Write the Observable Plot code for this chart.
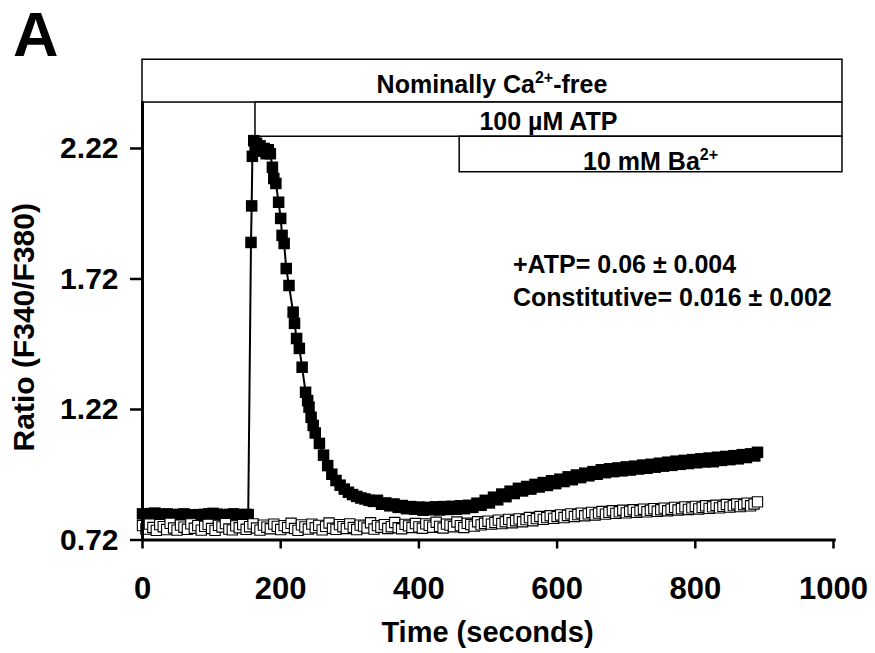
<!DOCTYPE html>
<html><head><meta charset="utf-8">
<script src="https://cdn.jsdelivr.net/npm/d3@7"></script>
<script src="https://cdn.jsdelivr.net/npm/@observablehq/plot@0.6"></script>
<style>
body{margin:0;background:#fff}
#chart{position:relative;width:875px;height:653px}
</style>
</head><body><div id="chart"></div>
<script>
// ---- Data ----
const atpTime = [0,6,12,18,24,30,36,42,48,54,60,66,72,78,84,90,96,102,108,114,120,126,132,138,144,150,153,
 157,158,159,161,163,165,167,170,173,176,179,182,185,188,190,193,197,200,202,205,208,212,218,220,223,227,231,236,239,241,244,247,250,
 256,262,268,274,280,286,292,298,304,310,316,322,328,334,340,346,352,358,364,370,376,382,388,394,400,406,412,418,424,430,436,442,448,454,460,466,472,478,484,490,496,502,508,514,520,526,532,538,544,550,556,562,568,574,580,586,592,598,604,610,616,622,628,634,640,646,652,658,664,670,676,682,688,694,700,706,712,718,724,730,736,742,748,754,760,766,772,778,784,790,796,802,808,814,820,826,832,838,844,850,856,862,868,874,880,886,890];
const atpRatio = [0.82,0.818,0.821,0.823,0.819,0.816,0.82,0.817,0.815,0.818,0.82,0.816,0.814,0.817,0.815,0.818,0.82,0.822,0.819,0.816,0.815,0.818,0.82,0.817,0.815,0.818,0.817,
 1.86,2.0,2.19,2.25,2.21,2.24,2.22,2.23,2.21,2.22,2.2,2.215,2.2,2.148,2.105,2.086,2.014,1.952,1.887,1.856,1.76,1.695,1.593,1.55,1.492,1.454,1.382,1.286,1.254,1.229,1.19,1.159,1.13,
 1.09,1.045,1.005,0.972,0.948,0.93,0.915,0.903,0.894,0.887,0.881,0.877,0.872,0.868,0.872,0.857,0.862,0.851,0.858,0.845,0.852,0.84,0.848,0.838,0.846,0.834,0.845,0.836,0.847,0.835,0.848,0.837,0.849,0.838,0.851,0.84,0.853,0.845,0.861,0.853,0.872,0.862,0.884,0.874,0.896,0.886,0.907,0.898,0.918,0.908,0.925,0.915,0.933,0.923,0.94,0.929,0.947,0.936,0.953,0.944,0.962,0.951,0.969,0.959,0.976,0.966,0.982,0.972,0.989,0.978,0.993,0.982,0.996,0.985,1.0,0.988,1.003,0.992,1.007,0.995,1.01,0.999,1.014,1.003,1.018,1.006,1.022,1.01,1.025,1.013,1.028,1.016,1.031,1.019,1.034,1.02,1.037,1.025,1.04,1.028,1.043,1.031,1.047,1.036,1.05,1.042,1.056];

const conTime = [0,5,10,15,20,25,30,35,40,45,50,55,60,65,70,75,80,85,90,95,100,105,110,115,120,125,130,135,140,145,150,155,160,165,170,175,180,185,190,195,200,205,210,215,220,225,230,235,240,245,250,255,260,265,270,275,280,285,290,295,300,305,310,315,320,325,330,335,340,345,350,355,360,365,370,375,380,385,390,395,400,405,410,415,420,425,430,435,440,445,450,455,460,465,470,475,480,485,490,495,500,505,510,515,520,525,530,535,540,545,550,555,560,565,570,575,580,585,590,595,600,605,610,615,620,625,630,635,640,645,650,655,660,665,670,675,680,685,690,695,700,705,710,715,720,725,730,735,740,745,750,755,760,765,770,775,780,785,790,795,800,805,810,815,820,825,830,835,840,845,850,855,860,865,870,875,880,885,890];
const conRatio = [0.775,0.762,0.781,0.768,0.757,0.779,0.771,0.76,0.784,0.766,
 0.758,0.777,0.769,0.761,0.782,0.765,0.775,0.758,0.772,0.78,
 0.764,0.757,0.776,0.77,0.783,0.762,0.759,0.774,0.767,0.779,
 0.761,0.771,0.782,0.766,0.758,0.777,0.769,0.763,0.781,0.772,
 0.76,0.775,0.768,0.784,0.764,0.757,0.778,0.77,0.762,0.781,
 0.767,0.776,0.759,0.772,0.785,0.765,0.761,0.779,0.771,0.764,
 0.782,0.768,0.76,0.777,0.773,0.766,0.786,0.762,0.775,0.769,
 0.779,0.764,0.771,0.787,0.767,0.763,0.78,0.774,0.768,0.783,
 0.77,0.765,0.782,0.776,0.769,0.788,0.772,0.766,0.781,0.777,
 0.771,0.789,0.775,0.768,0.784,0.779,0.773,0.79,0.778,0.784,
 0.792,0.781,0.787,0.796,0.783,0.79,0.799,0.786,0.794,0.801,
 0.79,0.798,0.806,0.794,0.802,0.81,0.799,0.806,0.813,0.803,
 0.81,0.816,0.806,0.814,0.82,0.81,0.817,0.823,0.813,0.82,
 0.826,0.816,0.823,0.829,0.819,0.826,0.832,0.822,0.828,0.834,
 0.824,0.83,0.836,0.826,0.832,0.838,0.828,0.834,0.84,0.83,
 0.836,0.842,0.832,0.838,0.845,0.835,0.84,0.847,0.837,0.843,
 0.849,0.839,0.845,0.851,0.841,0.847,0.853,0.843,0.849,0.856,
 0.846,0.852,0.858,0.848,0.855,0.861,0.851,0.858,
 0.866];

const xTicks = [0,200,400,600,800,1000];
const yTicks = [0.72,1.22,1.72,2.22];

// treatment bars above the trace
const barMain  = ["Nominally Ca", "100 µM ATP", "10 mM Ba"];
const barSup   = ["2+", "", "2+"];
const barAfter = ["-free", "", ""];
const barStart = [0, 163.5, 459];
const barEnd   = [1013, 1013, 1013];
const barTop   = [2.56, 2.396, 2.265];
const barBottom= [2.396, 2.265, 2.129];

const statLines = ["+ATP= 0.06 ± 0.004", "Constitutive= 0.016 ± 0.002"];
const xTitle = "Time (seconds)";
const yTitle = "Ratio (F340/F380)";
const panelLabel = "A";

// ---- Build tables ----
const atp = atpTime.map((t,i)=>({t, v: atpRatio[i]}));
const con = conTime.map((t,i)=>({t, v: conRatio[i]}));
const bars = barMain.map((m,i)=>({start:barStart[i], end:barEnd[i], top:barTop[i], bottom:barBottom[i]}));

const FONT = "'Liberation Sans', Arial, Helvetica, sans-serif";

const chart = Plot.plot({
  width: 875, height: 653,
  marginLeft: 142, marginRight: 42, marginTop: 101, marginBottom: 113.5,
  x: {domain: [0, 1000]},
  y: {domain: [0.72, 2.40]},
  style: {fontFamily: FONT, fontWeight: "bold", fontSize: "31px", color: "black", background: "white", overflow: "visible"},
  marks: [
    Plot.rect(bars, {x1: "start", x2: "end", y1: "bottom", y2: "top", fill: "white", stroke: "black", strokeWidth: 1.5, clip: false}),
    Plot.line(con, {x: "t", y: "v", stroke: "black", strokeWidth: 1}),
    Plot.line(atp, {x: "t", y: "v", stroke: "black", strokeWidth: 2}),
    Plot.dot(atp, {x: "t", y: "v", symbol: "square", r: 6.5, fill: "black"}),
    Plot.dot(con, {x: "t", y: "v", symbol: "square", r: 5.8, fill: "white", stroke: "black", strokeWidth: 1.1}),
    Plot.ruleX([0], {y1: 0.72, y2: 2.40, stroke: "black", strokeWidth: 3}),
    Plot.ruleY([0.72], {x1: 0, x2: 1004, stroke: "black", strokeWidth: 3}),
    Plot.axisX({ticks: xTicks, tickSize: 9, tickPadding: 28, tickFormat: d => String(d), label: null, strokeWidth: 2.5, fontSize: 31}),
    Plot.axisY({ticks: yTicks, tickSize: 12, tickPadding: 12, tickFormat: d => d.toFixed(2), label: null, strokeWidth: 2.5, fontSize: 30})
  ]
});
document.getElementById("chart").appendChild(chart);

// ---- Text annotations placed through the scales ----
const svg = d3.select(chart);
const sx = chart.scale("x"), sy = chart.scale("y");
const barBaselineOffset = [9, 6, 2];
bars.forEach((b,i)=>{
  const cx = (sx.apply(b.start) + sx.apply(b.end)) / 2;
  const by = sy.apply(b.bottom) - barBaselineOffset[i];
  const t = svg.append("text").attr("x", cx).attr("y", by).attr("text-anchor", "middle")
    .attr("font-family", FONT).attr("font-weight", "bold").attr("font-size", 25).attr("fill", "black");
  t.append("tspan").text(barMain[i]);
  if (barSup[i]) t.append("tspan").attr("dy", -10).attr("font-size", 16).text(barSup[i]);
  if (barAfter[i]) t.append("tspan").attr("dy", 10).text(barAfter[i]);
});

statLines.forEach((s,i)=>{
  svg.append("text").attr("x", 513).attr("y", 273 + i*33).attr("text-anchor", "start")
    .attr("font-family", FONT).attr("font-weight", "bold").attr("font-size", 25).attr("fill", "black").text(s);
});

svg.append("text").attr("x", (sx.apply(0)+sx.apply(1000))/2).attr("y", 642).attr("text-anchor", "middle")
  .attr("font-family", FONT).attr("font-weight", "bold").attr("font-size", 29).attr("fill", "black").text(xTitle);
svg.append("text").attr("transform", `translate(34,${(sy.apply(0.72)+sy.apply(2.40))/2 + 7}) rotate(-90)`).attr("text-anchor", "middle")
  .attr("font-family", FONT).attr("font-weight", "bold").attr("font-size", 30).attr("fill", "black").text(yTitle);
svg.append("text").attr("x", 13).attr("y", 56).attr("text-anchor", "start")
  .attr("font-family", FONT).attr("font-weight", "bold").attr("font-size", 63).attr("fill", "black").text(panelLabel);
</script>
</body></html>
